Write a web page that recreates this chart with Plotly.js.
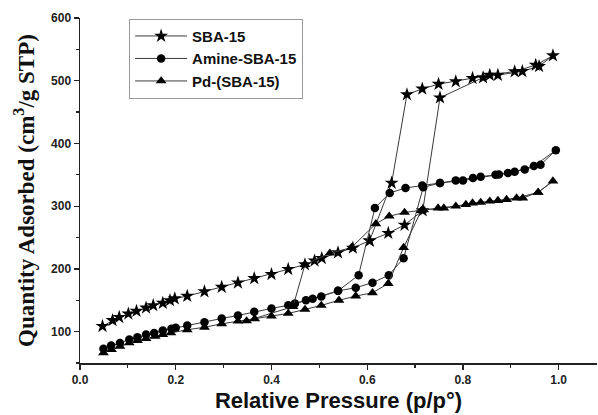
<!DOCTYPE html>
<html>
<head>
<meta charset="utf-8">
<script src="https://cdn.plot.ly/plotly-3.0.1.min.js"></script>
<style>
html,body{margin:0;padding:0;background:#fff;}
#chart{width:598px;height:415px;}
</style>
</head>
<body>
<div id="chart"></div>
<script>
// ---- Data ----
const seriesNames = ["SBA-15", "Amine-SBA-15", "Pd-(SBA-15)"];

// SBA-15
const sbaAdsX = [0.047,0.068,0.082,0.101,0.118,0.138,0.153,0.173,0.188,0.198,0.224,0.260,0.296,0.330,0.364,0.400,0.435,0.470,0.490,0.505,0.539,0.570,0.605,0.644,0.678,0.716,0.752,0.842,0.873,0.924,0.959,0.988];
const sbaAdsY = [108.7,118,123,128.5,132.7,138,141.8,145.5,149.8,152.6,156.7,163.8,171,178,185,191.5,199.5,207,213,217,226,233.5,245,257,270,293,473,505,509,515,523,540];
const sbaDesX = [0.952,0.908,0.856,0.820,0.785,0.749,0.715,0.683,0.651,0.605];
const sbaDesY = [525,514.7,509,504,498.8,494.6,487,478,337,245];

// Amine-SBA-15
const amAdsX = [0.049,0.065,0.0835,0.103,0.120,0.138,0.155,0.173,0.191,0.200,0.224,0.260,0.296,0.330,0.364,0.400,0.435,0.472,0.504,0.539,0.576,0.611,0.645,0.676,0.717,0.752,0.785,0.821,0.837,0.875,0.908,0.948,0.994];
const amAdsY = [72.9,77.7,82,87.3,91,95.4,98,101.8,104.5,106,109.8,115,121,125.8,131.7,137,142,150,156,165,170,178,190,217,330,337,341,345,347,350.6,355,364,389];
const amDesX = [0.962,0.929,0.894,0.868,0.800,0.752,0.715,0.680,0.647,0.616,0.582,0.539,0.486,0.449];
const amDesY = [366,358.6,353,350,341,337,333,329,321,297,190,165,152.6,145];

// Pd-(SBA-15)
const pdAdsX = [0.049,0.066,0.0835,0.103,0.120,0.138,0.157,0.173,0.190,0.224,0.260,0.296,0.330,0.365,0.400,0.435,0.470,0.504,0.541,0.576,0.611,0.644,0.676,0.713,0.748,0.785,0.820,0.856,0.891,0.925,0.957,0.988];
const pdAdsY = [66,71.3,76.6,82,85.7,89,92.6,95.4,98,103,107,112.5,116.7,120.5,124.7,129,135.4,141.8,150,156.7,162,176.6,234,293,297,300,305,308,310.6,313,322,340];
const pdDesX = [0.957,0.912,0.873,0.837,0.806,0.760,0.718,0.678,0.646,0.618,0.567,0.522,0.470,0.445,0.348];
const pdDesY = [322,313,309,306,302.6,297,294,290,284,272,234,225,207,140,117];

const xTickVals = [0,0.2,0.4,0.6,0.8,1.0];
const xTickText = ["0.0","0.2","0.4","0.6","0.8","1.0"];
const yTickVals = [100,200,300,400,500,600];
const yTickText = ["100","200","300","400","500","600"];

// ---- Traces ----
const lineStyle = {color:"#3a3a3a", width:1};
function mk(name, ax, ay, dx, dy, symbol, size){
  return {
    type:"scatter", mode:"lines+markers", name:name,
    x: ax.concat(dx), y: ay.concat(dy),
    line: lineStyle,
    marker:{symbol:symbol, size:size, color:"#000", line:{width:0}}
  };
}
const traces = [
  mk(seriesNames[0], sbaAdsX, sbaAdsY, sbaDesX, sbaDesY, "star", 10.5),
  mk(seriesNames[1], amAdsX, amAdsY, amDesX, amDesY, "circle", 8.5),
  mk(seriesNames[2], pdAdsX, pdAdsY, pdDesX, pdDesY, "triangle-up", 9.5)
];

const tickFont = {family:"Liberation Sans, Arial, sans-serif", size:12, color:"#222", weight:"bold"};

const layout = {
  width:598, height:415,
  margin:{l:80, r:1, t:18, b:52},
  paper_bgcolor:"#fff", plot_bgcolor:"#fff",
  showlegend:true,
  legend:{
    x:0.095, y:0.998, xanchor:"left", yanchor:"top",
    bgcolor:"#fff", bordercolor:"#999", borderwidth:1,
    font:{family:"Liberation Sans, Arial, sans-serif", size:15, color:"#111", weight:"bold"},
    itemwidth:52, tracegroupgap:0
  },
  xaxis:{
    range:[0,1.08], showline:true, linecolor:"#222", linewidth:1.5,
    ticks:"outside", ticklen:5, tickwidth:1.2, tickcolor:"#222",
    tickvals:xTickVals, ticktext:xTickText,
    minor:{ticks:"outside", ticklen:3, dtick:0.1, tick0:0, tickcolor:"#222"},
    showgrid:false, zeroline:false, tickfont:tickFont,
    title:{text:"Relative Pressure (p/p°)", standoff:6,
      font:{family:"Liberation Sans, Arial, sans-serif", size:22, color:"#111", weight:"bold"}}
  },
  yaxis:{
    range:[50,600], showline:true, linecolor:"#222", linewidth:1.5,
    ticks:"outside", ticklen:5, tickwidth:1.2, tickcolor:"#222",
    tickvals:yTickVals, ticktext:yTickText,
    minor:{ticks:"outside", ticklen:3, dtick:50, tick0:0, tickcolor:"#222"},
    showgrid:false, zeroline:false, tickfont:tickFont,
    title:{text:"Quantity Adsorbed (cm<sup>3</sup>/g STP)", standoff:10,
      font:{family:"Liberation Serif, Times New Roman, serif", size:23, color:"#111", weight:"bold"}}
  }
};

Plotly.newPlot("chart", traces, layout, {displayModeBar:false, staticPlot:true});
</script>
</body>
</html>
